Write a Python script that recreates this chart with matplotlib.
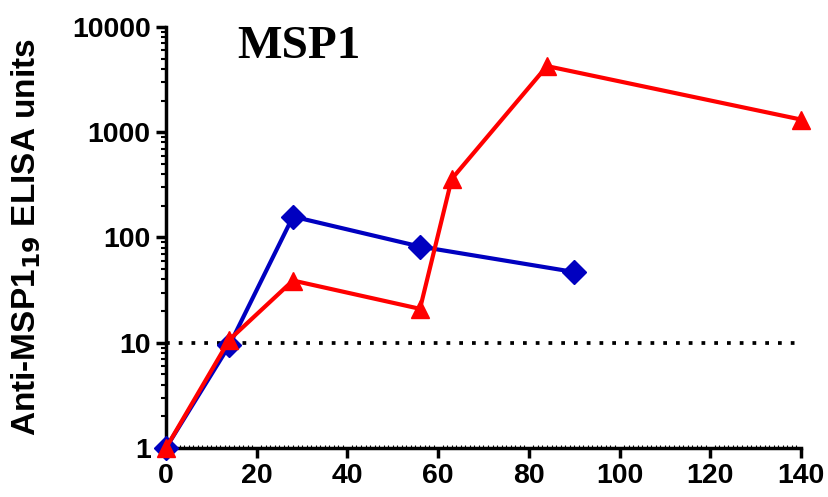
import matplotlib
matplotlib.use("Agg")
import matplotlib.pyplot as plt
from matplotlib.ticker import FixedLocator, MultipleLocator, LogLocator, NullFormatter

days_blue = [0, 14, 28, 56, 90]
vals_blue = [1, 9.5, 158, 82, 47]
days_red = [0, 14, 28, 56, 63, 84, 140]
vals_red = [1, 10.7, 39, 21, 360, 4250, 1320]
threshold = 10
yticks = [1, 10, 100, 1000, 10000]
ytick_labels = ["1", "10", "100", "1000", "10000"]
xticks = [0, 20, 40, 60, 80, 100, 120, 140]

plt.rcParams['font.family'] = ['Liberation Sans', 'DejaVu Sans']
fig = plt.figure(figsize=(8.29, 4.97), dpi=100)
ax = fig.add_axes([0.2002, 0.0986, 0.766, 0.8471])

ax.plot(days_blue, vals_blue, color='#0000C0', lw=3.0, marker='D', markersize=12,
        clip_on=False, zorder=3)
ax.plot(days_red, vals_red, color='#FF0000', lw=3.0, marker='^', markersize=13,
        clip_on=False, zorder=4)
ax.plot([0, 140], [threshold, threshold], color='black', lw=2.7, linestyle=(0, (1, 2.4)),
        zorder=2, clip_on=False, solid_capstyle='butt', dash_capstyle='butt')

ax.set_yscale('log')
ax.set_ylim(1, 10000)
ax.set_xlim(0, 140)
ax.yaxis.set_major_locator(FixedLocator(yticks))
ax.set_yticklabels(ytick_labels)
ax.yaxis.set_minor_locator(LogLocator(base=10, subs=range(2, 10)))
ax.yaxis.set_minor_formatter(NullFormatter())
ax.set_xticks(xticks)
ax.xaxis.set_minor_locator(MultipleLocator(1))

for s in ['top', 'right']:
    ax.spines[s].set_visible(False)
for s in ['left', 'bottom']:
    ax.spines[s].set_linewidth(2.5)

ax.tick_params(axis='both', which='major', length=7, width=2.5, labelsize=20.5, pad=4)
ax.tick_params(axis='y', which='minor', length=3.5, width=1.5)
ax.tick_params(axis='x', which='minor', direction='in', length=2, width=0.8)
for lab in ax.get_xticklabels() + ax.get_yticklabels():
    lab.set_fontweight('bold')

ax.set_ylabel('Anti-MSP1$_{\\mathbf{19}}$ ELISA units', fontsize=24, fontweight='bold')
ax.yaxis.set_label_coords((43 - 166) / 635, 0.5)
ax.text(237 / 829, 1 - 26 / 497, 'MSP1', transform=fig.transFigure, fontsize=34, fontweight='bold',
        family=['Liberation Serif'], ha='left', va='top')

fig.savefig('out.png', dpi=100)
